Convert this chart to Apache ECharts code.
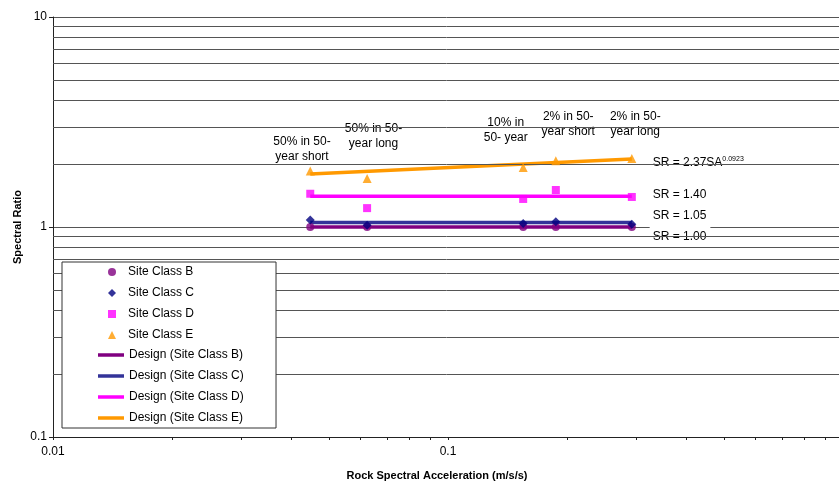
<!DOCTYPE html>
<html>
<head>
<meta charset="utf-8">
<script src="https://cdn.jsdelivr.net/npm/echarts@6/dist/echarts.min.js"></script>
<style>
html,body{margin:0;padding:0;background:#fff;}
#chart{width:839px;height:485px;}
</style>
</head>
<body>
<div id="chart"></div>
<script>
// ---- data ----
const rockSA = [0.0448, 0.0624, 0.155, 0.1875, 0.292];
const siteClassB = [1.00, 1.00, 1.00, 1.00, 1.00];
const siteClassC = [1.08, 1.02, 1.04, 1.06, 1.03];
const siteClassD = [1.44, 1.23, 1.36, 1.50, 1.39];
const siteClassE = [1.85, 1.70, 1.92, 2.07, 2.12];
const designSA = [0.0448, 0.292];
const designB = [1.00, 1.00];
const designC = [1.05, 1.05];
const designD = [1.40, 1.40];
const designE = [1.79, 2.11];
const minorGridValues = [0.2, 0.3, 0.4, 0.5, 0.6, 0.7, 0.8, 0.9, 2, 3, 4, 5, 6, 7, 8, 9];
const hazardTexts = ['50% in 50-\nyear short', '50% in 50-\nyear long', '10% in\n50- year', '2% in 50-\nyear short', '2% in 50-\nyear long'];
const hazardCoords = [[0.0427, 2.36], [0.0665, 2.60], [0.140, 2.90], [0.201, 3.08], [0.305, 3.09]];
const eqTexts = ['{a|SR = 2.37SA}{b|0.0923}', 'SR = 1.40', 'SR = 1.05', 'SR = 1.00'];
const eqCoords = [[0.324, 2.02], [0.324, 1.42], [0.324, 1.128], [0.324, 0.896]];

// label box paddings (style only)
const hazardPads = [[4, 4, 4, 4], [4, 14, 11, 5], [3, 3, 3, 3], [4, 8, 4, 9], [4, 13, 4, 5]];
const eqPads = [[5, 8, 5, 3], [3, 4, 3, 3], [3, 4, 3, 3], [6, 4, 6, 3]];

const FONT = 'Liberation Sans, Arial, sans-serif';
const pair = (xs, ys) => xs.map((x, i) => [x, ys[i]]);

const chart = echarts.init(document.getElementById('chart'));

const scatterDef = (name, ys, symbol, size, color) => ({
  name, type: 'scatter', data: pair(rockSA, ys), symbol, symbolSize: size,
  itemStyle: { color }, z: 5
});
const lineDef = (name, ys, color) => ({
  name, type: 'line', data: pair(designSA, ys), symbol: 'none', showSymbol: false,
  lineStyle: { color, width: 3.5 }, itemStyle: { color }, z: 4
});

const scatterNames = ['Site Class B', 'Site Class C', 'Site Class D', 'Site Class E'];
const scatterIcons = ['circle', 'diamond', 'rect', 'triangle'];
const lineNames = ['Design (Site Class B)', 'Design (Site Class C)', 'Design (Site Class D)', 'Design (Site Class E)'];
const barIcon = 'path://M0,0H26V3.5H0Z';

const textSeries = (name, coords, texts, pads, align) => ({
  name, type: 'custom', coordinateSystem: 'cartesian2d', z: 3, silent: true,
  encode: { x: 0, y: 1 },
  data: coords.map((c, i) => [c[0], c[1], i]),
  renderItem: (params, api) => {
    const p = api.coord([api.value(0), api.value(1)]);
    const i = api.value(2);
    return {
      type: 'text', x: p[0], y: p[1],
      style: {
        text: texts[i], fill: '#000', font: '12px ' + FONT,
        align, verticalAlign: 'middle', lineHeight: 15,
        backgroundColor: '#fff', padding: pads[i],
        rich: {
          a: { fontSize: 12, fill: '#000', fontFamily: FONT, lineHeight: 15 },
          b: { fontSize: 7, fill: '#000', fontFamily: FONT, verticalAlign: 'top', lineHeight: 15, padding: [0, 0, 8, 0] }
        }
      }
    };
  }
});

const option = {
  animation: false,
  backgroundColor: '#fff',
  textStyle: { fontFamily: FONT },
  grid: { left: 53, top: 17, right: -4, bottom: 48, outerBoundsMode: 'none', containLabel: false },
  xAxis: {
    type: 'log', logBase: 10, min: 0.01, max: 1,
    name: 'Rock Spectral Acceleration (m/s/s)', nameLocation: 'middle', nameGap: 33,
    nameMoveOverlap: false,
    nameTextStyle: { fontWeight: 'bold', fontSize: 11, color: '#000', fontFamily: FONT, padding: [0, 22, 0, 0] },
    axisLine: { show: true, lineStyle: { color: '#222', width: 1 } },
    axisTick: { show: true, length: 3, lineStyle: { color: '#222' } },
    minorTick: { show: true, splitNumber: 9, length: 3, lineStyle: { color: '#222' } },
    axisLabel: { color: '#000', fontSize: 12, fontFamily: FONT, margin: 9, showMaxLabel: false },
    splitLine: { show: false }
  },
  yAxis: {
    type: 'log', logBase: 10, min: 0.1, max: 10,
    name: 'Spectral Ratio', nameLocation: 'middle', nameGap: 30,
    nameMoveOverlap: false,
    nameTextStyle: { fontWeight: 'bold', fontSize: 11, color: '#000', fontFamily: FONT },
    axisLine: { show: true, lineStyle: { color: '#222', width: 1 } },
    axisTick: { show: true, length: 4, lineStyle: { color: '#222' } },
    axisLabel: { color: '#000', fontSize: 12, fontFamily: FONT, margin: 6 },
    splitLine: { show: true, lineStyle: { color: '#555', width: 1 } }
  },
  legend: [
    {
      orient: 'vertical', left: 62, top: 262, padding: [4, 82, 87, 46],
      backgroundColor: '#fff', borderColor: '#333', borderWidth: 1,
      itemWidth: 8, itemHeight: 8, itemGap: 9, z: 6,
      textStyle: { fontSize: 12, color: '#000', fontFamily: FONT, padding: [0, 0, 0, 7] },
      data: scatterNames.map((n, i) => ({ name: n, icon: scatterIcons[i] }))
    },
    {
      orient: 'vertical', left: 98, top: 349, padding: 0,
      itemWidth: 26, itemHeight: 8, itemGap: 9, z: 7,
      textStyle: { fontSize: 12, color: '#000', fontFamily: FONT },
      data: lineNames.map(n => ({ name: n, icon: barIcon }))
    }
  ],
  series: [
    {
      name: 'grid', type: 'line', data: [], z: 1, silent: true,
      markLine: {
        silent: true, symbol: 'none', animation: false,
        label: { show: false },
        lineStyle: { color: '#555', width: 1, type: 'solid' },
        data: minorGridValues.map(v => ({ yAxis: v }))
      }
    },
    lineDef(lineNames[0], designB, '#800080'),
    lineDef(lineNames[1], designC, '#333399'),
    lineDef(lineNames[2], designD, '#FF00FF'),
    lineDef(lineNames[3], designE, '#FF9900'),
    scatterDef(scatterNames[0], siteClassB, 'circle', 8, '#800080'),
    scatterDef(scatterNames[1], siteClassC, 'diamond', 9, '#000080'),
    scatterDef(scatterNames[2], siteClassD, 'rect', 8, '#FF00FF'),
    scatterDef(scatterNames[3], siteClassE, 'triangle', 9, '#FF9900'),
    textSeries('hazardLabels', hazardCoords, hazardTexts, hazardPads, 'center'),
    textSeries('eqLabels', eqCoords, eqTexts, eqPads, 'left')
  ]
};
chart.setOption(option);
</script>
</body>
</html>
